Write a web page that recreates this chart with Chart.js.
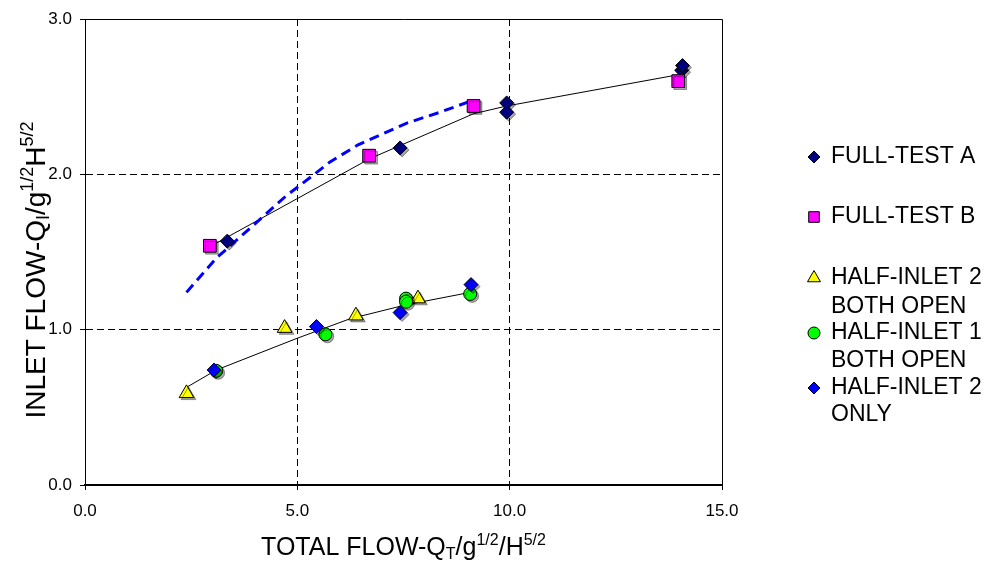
<!DOCTYPE html>
<html>
<head>
<meta charset="utf-8">
<script src="https://cdn.jsdelivr.net/npm/chart.js@4/dist/chart.umd.min.js"></script>
<style>
  html, body { margin: 0; padding: 0; background: #fff; }
</style>
</head>
<body>
<canvas id="chart" width="1004" height="564"></canvas>
<script>
// values
const fullAX = [3.35, 7.42, 9.93, 9.93, 14.05, 14.07];
const fullAY = [1.57, 2.17, 2.46, 2.40, 2.67, 2.70];
const fullBX = [2.94, 6.69, 9.15, 13.97];
const fullBY = [1.54, 2.12, 2.44, 2.60];
const half2BothX = [2.39, 4.70, 6.38, 7.84];
const half2BothY = [0.59, 1.01, 1.09, 1.20];
const half1BothX = [3.09, 5.66, 7.56, 7.56, 9.07];
const half1BothY = [0.735, 0.97, 1.20, 1.18, 1.23];
const half2OnlyX = [3.04, 5.45, 7.42, 9.09];
const half2OnlyY = [0.74, 1.02, 1.11, 1.29];

// black fit lines and the blue dashed curve
const fitFullX = [2.98, 6.70, 9.15, 9.93, 13.95];
const fitFullY = [1.54, 2.10, 2.39, 2.44, 2.64];
const fitHalfX = [2.40, 3.09, 5.00, 6.24, 7.56, 9.07];
const fitHalfY = [0.63, 0.74, 0.945, 1.07, 1.16, 1.24];
const dashX = [2.39, 3.09, 4.12, 4.73, 5.54, 5.77, 6.43, 7.58, 8.36, 9.07];
const dashY = [1.24, 1.46, 1.71, 1.86, 2.03, 2.08, 2.19, 2.33, 2.40, 2.47];

const xTicks = [0, 5, 10, 15];
const yTicks = [0, 1, 2, 3];

const legendLabels = [
  ['FULL-TEST A'],
  ['FULL-TEST B'],
  ['HALF-INLET 2', 'BOTH OPEN'],
  ['HALF-INLET 1', 'BOTH OPEN'],
  ['HALF-INLET 2', 'ONLY'],
];

const FONT = '"Liberation Sans", Arial, sans-serif';

const pts = (xs, ys) => xs.map((x, i) => ({ x, y: ys[i] }));

const markerSets = [
  { label: legendLabels[0], data: pts(fullAX, fullAY), style: 'rectRot', color: '#000080', r: 7, lr: 6 },
  { label: legendLabels[1], data: pts(fullBX, fullBY), style: 'rect', color: '#FF00FF', r: 9, lr: 7.5 },
  { label: legendLabels[2], data: pts(half2BothX, half2BothY), style: 'triangle', color: '#FFFF00', r: 8.5, lr: 7.5 },
  { label: legendLabels[3], data: pts(half1BothX, half1BothY), style: 'circle', color: '#00FF00', r: 6.5, lr: 6 },
  { label: legendLabels[4], data: pts(half2OnlyX, half2OnlyY), style: 'rectRot', color: '#0000FF', r: 7, lr: 6 },
];

const datasets = [
  { type: 'line', data: pts(fitFullX, fitFullY), borderColor: '#000', borderWidth: 1, pointRadius: 0, fill: false, order: 10 },
  { type: 'line', data: pts(fitHalfX, fitHalfY), borderColor: '#000', borderWidth: 1, pointRadius: 0, fill: false, order: 10 },
  { type: 'line', data: pts(dashX, dashY), borderColor: '#0000FF', borderWidth: 3, borderDash: [10, 6], pointRadius: 0, fill: false, order: 9 },
  ...markerSets.map((s, i) => ({
    type: 'scatter',
    label: s.label.join(' '),
    data: s.data,
    pointStyle: s.style,
    pointRadius: s.r,
    pointHoverRadius: s.r,
    backgroundColor: s.color,
    borderColor: '#000',
    borderWidth: 1,
    order: 5 - i,
    isMarker: true,
  })),
];

// draw text with sub/superscripts, y is the baseline, centred on x
const drawRich = (ctx, segs, x, y, size) => {
  const small = Math.round(size * 0.64);
  const fontOf = s => `${s.sup || s.sub ? small : size}px ${FONT}`;
  let total = 0;
  segs.forEach(s => { ctx.font = fontOf(s); total += ctx.measureText(s.t).width; });
  let cx = x - total / 2;
  ctx.textAlign = 'left';
  ctx.textBaseline = 'alphabetic';
  segs.forEach(s => {
    ctx.font = fontOf(s);
    const dy = s.sup ? -size * 0.42 : s.sub ? size * 0.16 : 0;
    ctx.fillText(s.t, cx, y + dy);
    cx += ctx.measureText(s.t).width;
  });
};

const drawMarker = (ctx, style, x, y, r, fill) => {
  ctx.beginPath();
  if (style === 'rectRot') {
    ctx.moveTo(x - r, y); ctx.lineTo(x, y - r); ctx.lineTo(x + r, y); ctx.lineTo(x, y + r);
  } else if (style === 'rect') {
    const h = r * Math.SQRT1_2;
    ctx.rect(x - h, y - h, 2 * h, 2 * h);
  } else if (style === 'triangle') {
    ctx.moveTo(x, y - r);
    ctx.lineTo(x + r * Math.sin(2 * Math.PI / 3), y + r * 0.5);
    ctx.lineTo(x - r * Math.sin(2 * Math.PI / 3), y + r * 0.5);
  } else {
    ctx.arc(x, y, r, 0, Math.PI * 2);
  }
  ctx.closePath();
  ctx.fillStyle = fill;
  ctx.fill();
  ctx.strokeStyle = '#000';
  ctx.lineWidth = 1;
  ctx.stroke();
};

const decorPlugin = {
  id: 'decor',
  beforeDatasetsDraw(chart) {
    // top and right frame
    const { ctx, chartArea: a } = chart;
    ctx.save();
    ctx.strokeStyle = '#000';
    ctx.lineWidth = 1;
    ctx.beginPath();
    ctx.moveTo(a.left, Math.round(a.top) + 0.5);
    ctx.lineTo(Math.round(a.right) + 0.5, Math.round(a.top) + 0.5);
    ctx.lineTo(Math.round(a.right) + 0.5, a.bottom);
    ctx.stroke();
    ctx.restore();
  },
  beforeDatasetDraw(chart, args) {
    if (!args.meta._dataset.isMarker) return;
    const ctx = chart.ctx;
    ctx.save();
    ctx.shadowColor = 'rgba(0,0,0,0.35)';
    ctx.shadowOffsetX = 2;
    ctx.shadowOffsetY = 2;
    ctx.shadowBlur = 0;
  },
  afterDatasetDraw(chart, args) {
    if (!args.meta._dataset.isMarker) return;
    chart.ctx.restore();
  },
  afterDraw(chart) {
    const { ctx, chartArea: a } = chart;
    ctx.save();
    ctx.fillStyle = '#000';

    // axis titles
    drawRich(ctx, [
      { t: 'TOTAL FLOW-Q' }, { t: 'T', sub: true }, { t: '/g' }, { t: '1/2', sup: true },
      { t: '/H' }, { t: '5/2', sup: true },
    ], (a.left + a.right) / 2, 555, 25);

    ctx.save();
    ctx.translate(45, 270);
    ctx.rotate(-Math.PI / 2);
    drawRich(ctx, [
      { t: 'INLET FLOW-Q' }, { t: 'I', sub: true }, { t: '/g' }, { t: '1/2', sup: true },
      { t: 'H' }, { t: '5/2', sup: true },
    ], 0, 0, 28);
    ctx.restore();

    // legend
    const rows = [[157], [217], [278, 307], [333, 361], [388, 415]];
    ctx.font = `23px ${FONT}`;
    ctx.textAlign = 'left';
    ctx.textBaseline = 'middle';
    markerSets.forEach((s, i) => {
      drawMarker(ctx, s.style, 814, rows[i][0], s.lr, s.color);
      ctx.fillStyle = '#000';
      s.label.forEach((line, j) => ctx.fillText(line, 831, rows[i][j]));
    });
    ctx.restore();
  },
};

const gridColor = (ctx, last) => (ctx.tick && (ctx.tick.value === 0 || ctx.tick.value === last)) ? 'rgba(0,0,0,0)' : '#000';

new Chart(document.getElementById('chart'), {
  data: { datasets },
  plugins: [decorPlugin],
  options: {
    responsive: false,
    animation: false,
    events: [],
    layout: { padding: { top: 19, right: 282, left: 0, bottom: 0 } },
    plugins: { legend: { display: false }, tooltip: { enabled: false } },
    scales: {
      x: {
        type: 'linear',
        min: 0,
        max: 15,
        afterBuildTicks: s => { s.ticks = xTicks.map(v => ({ value: v })); },
        afterFit: s => { s.height = 79; },
        ticks: { callback: v => v.toFixed(1), color: '#000', font: { family: FONT, size: 17 }, padding: 11, maxRotation: 0 },
        grid: { color: c => gridColor(c, 15), tickColor: '#000', tickLength: 5, lineWidth: 1 },
        border: { color: '#000', width: 2, dash: [7, 4] },
      },
      y: {
        type: 'linear',
        min: 0,
        max: 3,
        afterBuildTicks: s => { s.ticks = yTicks.map(v => ({ value: v })); },
        afterFit: s => { s.width = 85; },
        ticks: { callback: v => v.toFixed(1), color: '#000', font: { family: FONT, size: 17 }, padding: 8 },
        grid: { color: c => gridColor(c, 3), tickColor: '#000', tickLength: 5, lineWidth: 1 },
        border: { color: '#000', width: 1, dash: [7, 4] },
      },
    },
  },
});
</script>
</body>
</html>
